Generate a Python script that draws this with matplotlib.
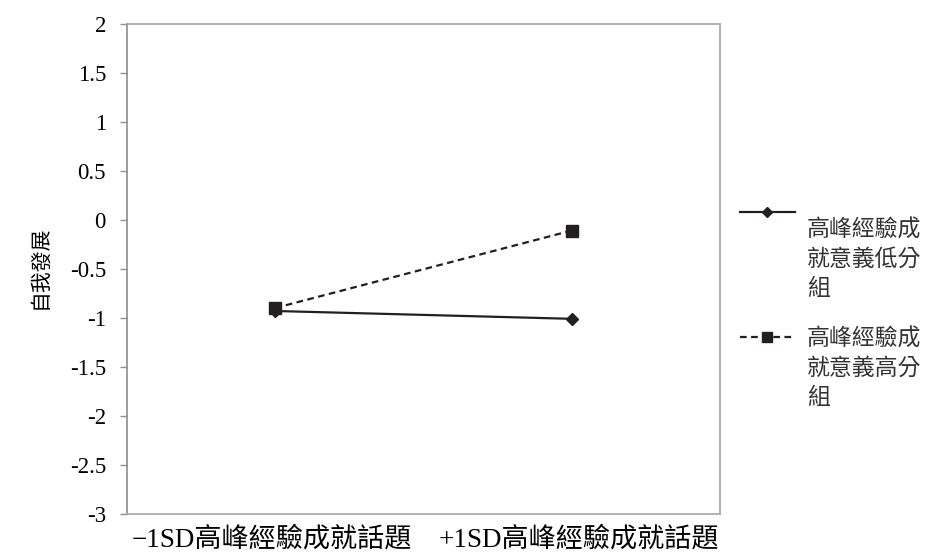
import matplotlib.pyplot as plt
import matplotlib.transforms as mtransforms
from matplotlib.lines import Line2D

plt.rcParams['font.family'] = ['Liberation Serif', 'Noto Sans CJK TC']

categories = ["−1SD高峰經驗成就話題", "+1SD高峰經驗成就話題"]
low_group = [-0.93, -1.01]
high_group = [-0.90, -0.11]
series_names = ["高峰經驗成\n就意義低分\n組", "高峰經驗成\n就意義高分\n組"]
yticks = [2, 1.5, 1, 0.5, 0, -0.5, -1, -1.5, -2, -2.5, -3]

ink = "#231f20"
fig = plt.figure(figsize=(9.46, 5.52), dpi=100)
ax = fig.add_axes([0.134, 0.069, 0.627, 0.888])

x = range(len(categories))
ax.plot(x, low_group, color=ink, lw=1.6, marker="D", ms=6.5)
ax.plot(x, high_group, color=ink, lw=1.6, ls=(0, (3, 2)), marker="s", ms=9)

ax.set_xlim(-0.5, 1.5)
ax.set_ylim(-3, 2)
ax.set_yticks(yticks)
ax.set_yticklabels([f"{t:g}" for t in yticks], fontsize=16.5)
ax.set_xticks(list(x))
ax.set_xticklabels(categories, fontsize=19.5)
ax.tick_params(axis="x", length=0, pad=9)
ax.tick_params(axis="y", length=5, width=1, color="#909090", pad=10)
for s in ax.spines.values():
    s.set_color("#a6a6a6")
    s.set_linewidth(1.2)
ax.spines["left"].set_color("#8c8c8c")

# nudge category labels slightly apart, as in the original layout
for lab, dx in zip(ax.get_xticklabels(), [-3, 7]):
    lab.set_transform(lab.get_transform() +
                      mtransforms.ScaledTranslation(dx / 100, 0, fig.dpi_scale_trans))

fig.text(0.042, 0.515, "自我發展", rotation=90, fontsize=15,
         ha="center", va="center", family=['Noto Sans CJK TC'])

# manual legend on the right
styles = [dict(marker="D", ms=6.5, ls="-"), dict(marker="s", ms=9, ls=(0, (3, 2)))]
line_y = [1 - 212 / 552, 1 - 337 / 552]
text_y = [1 - 219 / 552, 1 - 328 / 552]
for name, st, ly, ty in zip(series_names, styles, line_y, text_y):
    fig.add_artist(Line2D([0.782, 0.840], [ly, ly], color=ink, lw=1.6,
                          ls=st["ls"], transform=fig.transFigure))
    fig.add_artist(Line2D([0.811], [ly], color=ink, marker=st["marker"],
                          ms=st["ms"] * 0.8, transform=fig.transFigure))
    fig.text(0.853, ty, name, fontsize=16.5, va="top", ha="left",
             linespacing=1.32, family=['Noto Sans CJK TC'], color="#333333")

fig.savefig("out.png", dpi=100)
